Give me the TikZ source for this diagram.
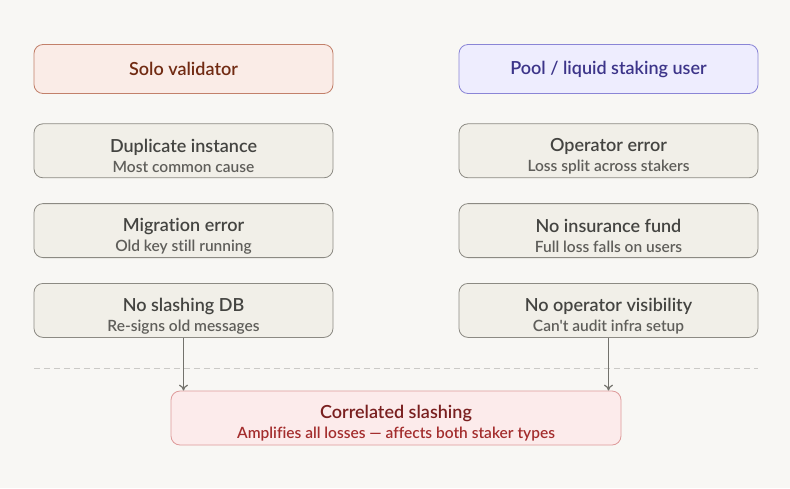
\documentclass[tikz,border=0pt]{standalone}
\usepackage{fontspec}
\setmainfont{Lato}[Ligatures=NoCommon]
\newfontfamily\headface{Lato Semibold}[Ligatures=NoCommon]
\usetikzlibrary{positioning,arrows.meta}
\definecolor{pagebg}{HTML}{F8F7F4}
\definecolor{solofill}{HTML}{FAECE7}
\definecolor{solodraw}{HTML}{C2806A}
\definecolor{solotext}{HTML}{712B13}
\definecolor{poolfill}{HTML}{EEEDFE}
\definecolor{pooldraw}{HTML}{8A85D6}
\definecolor{pooltext}{HTML}{3C3489}
\definecolor{itemfill}{HTML}{F1EFE8}
\definecolor{itemdraw}{HTML}{8C8A83}
\definecolor{itemtext}{HTML}{444441}
\definecolor{itemsub}{HTML}{5F5E5A}
\definecolor{corrfill}{HTML}{FCEBEB}
\definecolor{corrdraw}{HTML}{DE9A9A}
\definecolor{corrtext}{HTML}{791F1F}
\definecolor{corrsub}{HTML}{A32D2D}
\definecolor{arrowgray}{HTML}{73726C}
\newcommand{\headfont}{\headface\fontsize{18}{20}\selectfont}
\newcommand{\subfont}{\fontsize{15.5}{20}\selectfont}
\newcommand{\lift}{\rule{0pt}{24pt}}
\begin{document}
\begin{tikzpicture}
    [ x=1pt, y=-1pt
    , node distance=25pt
    , box/.style={rounded corners=9pt, line width=0.8pt, minimum width=299pt, align=center, inner sep=0pt, font=\headfont}
    , headbox/.style={box, minimum height=49pt}
    , solobox/.style={headbox, fill=solofill, draw=solodraw, text=solotext}
    , poolbox/.style={headbox, fill=poolfill, draw=pooldraw, text=pooltext}
    , itembox/.style={box, minimum height=54pt, fill=itemfill, draw=itemdraw, text=itemtext}
    , corrbox/.style={box, minimum height=54pt, minimum width=450pt, fill=corrfill, draw=corrdraw, text=corrtext}
    , feed/.style={draw=arrowgray, line width=1.2pt, -{To[length=6pt,width=9pt]}}
    ]
\fill[pagebg] (0,0) rectangle (790,488);
\useasboundingbox (0,0) rectangle (790,488);

% column heads
\node[solobox] (solo) at (183.5,69) {Solo validator};
\node[poolbox] (pool) at (608.5,69) {Pool / liquid staking user};

% solo column
\node[itembox, below=29.5pt of solo] (dup)
    {\lift Duplicate instance\\{\subfont\color{itemsub}Most common cause}};
\node[itembox, below=of dup] (mig)
    {\lift Migration error\\{\subfont\color{itemsub}Old key still running}};
\node[itembox, below=of mig] (nodb)
    {\lift No slashing DB\\{\subfont\color{itemsub}Re-signs old messages}};

% pool column
\node[itembox, below=29.5pt of pool] (operr)
    {\lift Operator error\\{\subfont\color{itemsub}Loss split across stakers}};
\node[itembox, below=of operr] (noins)
    {\lift No insurance fund\\{\subfont\color{itemsub}Full loss falls on users}};
\node[itembox, below=of noins] (novis)
    {\lift No operator visibility\\{\subfont\color{itemsub}Can't audit infra setup}};

% divider
\coordinate (divl) at (34,368);
\coordinate (divr) at (758,368);
\draw[itemdraw!45, dash pattern=on 6pt off 4pt, line width=0.6pt] (divl) -- (divr);

% outcome
\node[corrbox] (corr) at (396,418)
    {\lift Correlated slashing\\{\subfont\color{corrsub}Amplifies all losses — affects both staker types}};

\draw[feed] (nodb.south) -- (nodb.south |- corr.north);
\draw[feed] (novis.south) -- (novis.south |- corr.north);
\end{tikzpicture}
\end{document}
